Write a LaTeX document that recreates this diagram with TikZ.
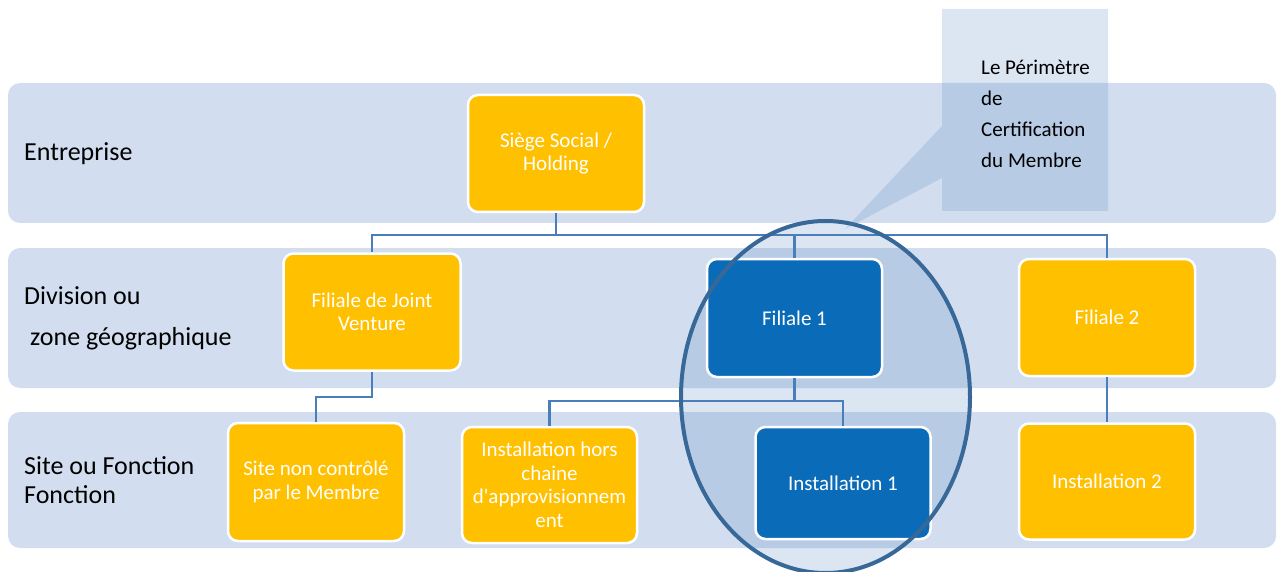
\documentclass[tikz,border=0pt]{standalone}
\usepackage{fontspec}
\setmainfont{Carlito}
\definecolor{bandblue}{RGB}{210,222,239}
\definecolor{boxorange}{RGB}{255,192,0}
\definecolor{boxblue}{RGB}{10,108,184}
\definecolor{linkblue}{RGB}{74,126,187}
\definecolor{ringblue}{RGB}{56,104,152}
\definecolor{tintblue}{RGB}{79,129,189}
\tikzset{
  band/.style={fill=bandblue, rounded corners=12pt},
  unit/.style={draw=white, line width=2.5pt, rounded corners=10pt,
    text=white, align=center, inner sep=2pt,
    font=\fontsize{21}{23.5}\selectfont},
  orangebox/.style={unit, fill=boxorange},
  bluebox/.style={unit, fill=boxblue},
  link/.style={draw=linkblue, line width=2.5pt},
  levellabel/.style={anchor=west, inner sep=0pt, align=left, text=black},
  tint/.style={fill=tintblue, fill opacity=0.2},
}
\begin{document}
\begin{tikzpicture}[x=1pt, y=-1pt]
\useasboundingbox (0,0) rectangle (1277,572);
\clip (0,0) rectangle (1277,572);

% level bands
\fill[band] (8,83) rectangle (1276,223);
\fill[band] (8,248) rectangle (1276,388);
\fill[band] (8,412) rectangle (1276,548);

% certification perimeter (shading behind the units)
\path[tint] (825.5,397) ellipse [x radius=144.5, y radius=176];

% level labels
\node[levellabel, font=\fontsize{26}{30}\selectfont] (lEnt) at (24,154) {Entreprise};
\node[levellabel, font=\fontsize{26}{41}\selectfont] (lDiv) at (24,318)
  {Division ou\\\hspace*{6pt}zone géographique};
\node[levellabel, font=\fontsize{26}{29}\selectfont] (lSite) at (24,480)
  {Site ou Fonction\\Fonction};

% organisation units
\node[orangebox, minimum width=176pt, minimum height=117pt] (S) at (556,153.5) {Siège Social /\\Holding};
\node[orangebox, minimum width=177pt, minimum height=117pt] (JV) at (372,312) {Filiale de Joint\\Venture};
\node[bluebox, minimum width=175pt, minimum height=118pt] (F1) at (794.5,318) {Filiale 1};
\node[orangebox, minimum width=176pt, minimum height=117pt] (F2) at (1107,317.5) {Filiale 2};
\node[orangebox, minimum width=176pt, minimum height=118pt] (Site) at (316,482) {Site non contrôlé\\par le Membre};
\node[orangebox, minimum width=175pt, minimum height=116pt] (IHC) at (549.5,485) {Installation hors\\chaine\\d\textquotesingle approvisionnem\\ent};
\node[bluebox, minimum width=175pt, minimum height=112pt] (I1) at (843,483) {Installation 1};
\node[orangebox, minimum width=176pt, minimum height=116pt] (I2) at (1107,481.5) {Installation 2};

% connectors
\coordinate (busTop) at (556,235);
\coordinate (busJV) at (372,397);
\coordinate (busF1) at (794.5,401);
\draw[link] (S.south) -- (busTop);
\draw[link] (JV.north) |- (busTop);
\draw[link] (F1.north) |- (busTop);
\draw[link] (F2.north) |- (busTop);
\draw[link] (JV.south) -- (busJV) -| (Site.north);
\draw[link] (F1.south) -- (busF1);
\draw[link] (IHC.north) |- (busF1);
\draw[link] (I1.north) |- (busF1);
\draw[link] (F2.south) -- (I2.north);

% certification perimeter outline
\draw[ringblue, line width=4pt] (825.5,397) ellipse [x radius=144.5, y radius=176];

% callout
\path[tint] (942,9) -- (1108,9) -- (1108,211) -- (942,211) -- (942,178)
  -- (845,229) -- (942,126) -- cycle;
\node[anchor=west, inner sep=0pt, align=left, text=black,
  font=\fontsize{21}{31}\selectfont] (callout) at (981,113.5)
  {Le Périmètre\\de\\Certification\\du Membre};
\end{tikzpicture}
\end{document}
